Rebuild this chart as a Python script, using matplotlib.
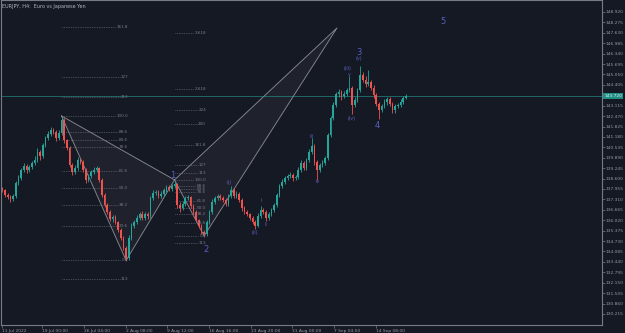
import matplotlib
matplotlib.use("Agg")
import matplotlib.pyplot as plt
import numpy as np

# EURJPY H4 candles (one candle here = two H4 bars)
first_open = 137.95
closes = [137.89, 137.58, 137.46, 137.34, 137.52, 138.33, 138.64, 139.13, 139.38, 139.13,
          139.32, 139.57, 139.75, 140.25, 140.00, 140.68, 141.11, 141.36, 141.61, 141.49,
          141.11, 141.43, 142.23, 140.99, 140.50, 139.44, 139.01, 139.26, 139.75, 139.63,
          139.13, 138.51, 138.76, 139.01, 139.13, 139.26, 138.51, 137.58, 136.97, 136.53,
          136.10, 136.22, 135.91, 135.42, 134.92, 134.30, 133.68, 134.92, 135.67, 135.91,
          136.16, 136.41, 136.16, 136.41, 136.29, 137.40, 137.71, 137.77, 137.52, 137.65,
          137.89, 138.08, 137.96, 138.14, 138.27, 136.97, 136.78, 137.03, 137.40, 137.46,
          136.91, 136.53, 136.04, 135.67, 135.29, 135.17, 135.91, 136.53, 137.15, 137.40,
          137.52, 137.40, 137.27, 137.03, 137.52, 137.89, 137.52, 137.65, 137.27, 136.78,
          136.53, 136.41, 136.16, 135.91, 135.67, 136.29, 136.66, 136.53, 136.16, 136.41,
          136.66, 136.97, 137.58, 138.14, 138.39, 138.64, 138.76, 138.82, 138.64, 138.70,
          139.13, 139.57, 139.26, 139.75, 140.25, 140.62, 139.63, 139.13, 139.44, 139.57,
          139.88, 141.30, 142.36, 143.16, 143.84, 143.97, 143.72, 143.84, 144.09, 144.21,
          143.16, 143.47, 144.09, 145.02, 144.71, 144.46, 144.58, 144.21, 143.78, 143.22,
          142.85, 143.10, 143.35, 143.53, 143.22, 142.85, 143.10, 143.16, 143.35, 143.59,
          143.72]
upper_wick = [0.10, 0.08, 0.12, 0.10, 0.15, 0.10, 0.18, 0.12, 0.20, 0.10,
              0.14, 0.10, 0.22, 0.25, 0.10, 0.12, 0.15, 0.20, 0.18, 0.10,
              0.12, 0.15, 0.19, 0.10, 0.08, 0.12, 0.10, 0.20, 0.18, 0.10,
              0.12, 0.10, 0.15, 0.12, 0.20, 0.10, 0.08, 0.10, 0.12, 0.10,
              0.15, 0.10, 0.12, 0.08, 0.10, 0.12, 0.10, 0.20, 0.15, 0.12,
              0.18, 0.10, 0.20, 0.12, 0.10, 0.15, 0.20, 0.12, 0.10, 0.15,
              0.10, 0.12, 0.15, 0.10, 0.18, 0.08, 0.15, 0.20, 0.12, 0.10,
              0.08, 0.10, 0.12, 0.08, 0.10, 0.12, 0.15, 0.10, 0.20, 0.12,
              0.15, 0.10, 0.12, 0.15, 0.10, 0.25, 0.12, 0.18, 0.10, 0.12,
              0.10, 0.15, 0.08, 0.12, 0.10, 0.15, 0.25, 0.10, 0.12, 0.15,
              0.10, 0.12, 0.10, 0.15, 0.20, 0.12, 0.15, 0.20, 0.12, 0.10,
              0.18, 0.20, 0.12, 0.15, 0.20, 0.50, 0.15, 0.10, 0.12, 0.15,
              0.10, 0.15, 0.12, 0.20, 0.15, 0.18, 0.12, 0.20, 0.15, 0.75,
              0.15, 0.20, 0.15, 0.55, 0.20, 0.25, 0.75, 0.15, 0.20, 0.12,
              0.10, 0.15, 0.18, 0.12, 0.10, 0.15, 0.12, 0.10, 0.15, 0.12,
              0.10]
lower_wick = [0.12, 0.15, 0.10, 0.18, 0.10, 0.12, 0.10, 0.15, 0.10, 0.20,
              0.10, 0.12, 0.10, 0.15, 0.25, 0.10, 0.12, 0.10, 0.15, 0.12,
              0.18, 0.10, 0.12, 0.20, 0.15, 0.10, 0.20, 0.12, 0.10, 0.15,
              0.10, 0.20, 0.12, 0.15, 0.10, 0.12, 0.15, 0.10, 0.12, 0.15,
              0.10, 0.18, 0.12, 0.15, 0.10, 0.12, 0.18, 0.10, 0.15, 0.12,
              0.10, 0.15, 0.12, 0.10, 0.20, 0.12, 0.10, 0.15, 0.12, 0.10,
              0.12, 0.10, 0.15, 0.12, 0.10, 0.20, 0.25, 0.15, 0.10, 0.12,
              0.15, 0.12, 0.10, 0.15, 0.12, 0.19, 0.10, 0.12, 0.15, 0.10,
              0.12, 0.15, 0.10, 0.12, 0.15, 0.10, 0.12, 0.10, 0.15, 0.20,
              0.12, 0.15, 0.10, 0.12, 0.19, 0.10, 0.12, 0.15, 0.20, 0.10,
              0.12, 0.10, 0.15, 0.12, 0.10, 0.12, 0.15, 0.10, 0.20, 0.12,
              0.10, 0.15, 0.12, 0.10, 0.15, 0.12, 0.20, 0.60, 0.15, 0.12,
              0.15, 0.12, 0.10, 0.15, 0.12, 0.20, 0.25, 0.15, 0.12, 0.10,
              0.56, 0.15, 0.12, 0.10, 0.15, 0.20, 0.12, 0.15, 0.20, 0.15,
              0.56, 0.15, 0.12, 0.20, 0.15, 0.18, 0.20, 0.12, 0.15, 0.10,
              0.08]

# harmonic pattern points X, A, B, C, D (candle index, price)
pattern_x = [22, 46, 64, 75, 124.4]
pattern_y = [142.48, 133.53, 138.52, 135.05, 147.93]

# fibo levels drawn by the pattern tool
fib_levels = [-0.13, 0.0, 0.236, 0.382, 0.5, 0.618, 0.786, 0.836, 0.886, 1.0,
              1.13, 1.27, 1.618, 2.0, 2.24, 2.618, 3.618]
fib_labels = ["113", "0.0", "23.6", "38.2", "50.0", "61.8", "78.6", "83.6", "88.6", "100.0",
              "113", "127", "161.8", "200", "224", "2.618", "3.618"]

# elliott wave labels
wave_text = ["1", "2", "3", "4", "5"]
wave_x = [63.4, 75.6, 132.6, 139.3, 163.8]
wave_y = [138.82, 134.22, 146.44, 141.86, 148.36]
sub_text = ["(i)", "(ii)", "i", "ii", "iii", "iv", "(iii)", "v", "(iv)", "(v)"]
sub_x = [84.3, 93.9, 96.2, 98.0, 115.1, 117.3, 128.5, 128.9, 130.0, 132.6]
sub_y = [138.33, 135.23, 137.27, 135.73, 141.18, 138.39, 145.39, 145.02, 142.35, 146.01]

# axis labels
date_pos = [0, 14.7, 30.4, 46.0, 61.2, 76.8, 92.4, 107.7, 123.3, 138.9]
date_labels = ["11 Jul 2022", "19 Jul 00:00", "26 Jul 04:00", "2 Aug 08:00", "9 Aug 12:00",
               "16 Aug 16:00", "23 Aug 20:00", "31 Aug 00:00", "7 Sep 04:00", "14 Sep 08:00"]
price_ticks = [148.920, 148.275, 147.630, 146.985, 146.340, 145.695, 145.050, 144.405,
               143.760, 143.115, 142.470, 141.825, 141.180, 140.535, 139.890, 139.245,
               138.600, 137.955, 137.310, 136.665, 136.020, 135.375, 134.730, 134.085,
               133.440, 132.795, 132.150, 131.505, 130.860, 130.215]
last_price = 143.72

bg = "#151924"
up_col = "#26a69a"
down_col = "#ef5350"
txt_col = "#9598a1"
wave_col = "#5b5fc0"
y_lo, y_hi = 129.53, 149.63

fig = plt.figure(figsize=(6.25, 3.33), dpi=100, facecolor=bg)
ax = fig.add_axes([0.0016, 0.024, 0.9616, 0.9745], facecolor=bg)

# candles
closes = np.array(closes)
opens = np.concatenate([[first_open], closes[:-1]])
highs = np.maximum(opens, closes) + np.array(upper_wick)
lows = np.minimum(opens, closes) - np.array(lower_wick)
idx = np.arange(len(closes))
colors = np.where(closes >= opens, up_col, down_col)
ax.vlines(idx, lows, highs, colors=colors, linewidth=0.6, zorder=3)
ax.bar(idx, np.abs(closes - opens) + 0.02, bottom=np.minimum(opens, closes) - 0.01,
       width=0.6, color=colors, linewidth=0, zorder=4)

# pattern triangles
px, py = pattern_x, pattern_y
for tri in ([0, 1, 2], [2, 3, 4]):
    ax.fill([px[k] for k in tri], [py[k] for k in tri], color="#ffffff", alpha=0.045, zorder=1)
    ax.plot([px[k] for k in tri + [tri[0]]], [py[k] for k in tri + [tri[0]]],
            color="#a0a3ab", linewidth=0.6, alpha=0.8, zorder=2)

# fib levels: XA set and BC set (only what fits on screen)
for i0, i1 in ((0, 1), (2, 3)):
    top, base = py[i0], py[i1]
    for f, lab in zip(fib_levels, fib_labels):
        lvl = base + f * (top - base)
        if lvl > y_hi - 0.25:
            continue
        x_end = px[i1] + 0.7 - len(lab) * 0.85 - 0.3
        ax.plot([px[i0], x_end], [lvl, lvl], color="#787b86", linewidth=0.5,
                linestyle=(0, (1, 1.5)), zorder=2)
        ax.text(px[i1] + 0.7, lvl, lab, fontsize=3, color="#787b86", ha="right",
                va="center", zorder=5)

# wave labels
for t, x, y in zip(wave_text, wave_x, wave_y):
    ax.text(x, y, t, fontsize=6, color=wave_col, ha="center", va="center", zorder=6)
for t, x, y in zip(sub_text, sub_x, sub_y):
    ax.text(x, y, t, fontsize=3.5, color=wave_col, ha="center", va="center", zorder=6)

# current price line + marker on the axis
ax.axhline(last_price, color="#26a69a", alpha=0.55, linewidth=0.7, zorder=2)
ax.annotate(f"{last_price:.3f}", xy=(1.0, last_price), xycoords=("axes fraction", "data"),
            xytext=(1.5, 0), textcoords="offset points", fontsize=3.2, color="#e0f2f1",
            va="center", ha="left",
            bbox=dict(boxstyle="square,pad=0.25", fc="#1f9085", ec="none"), zorder=10,
            annotation_clip=False)

ax.set_xlim(-0.5, 222.9)
ax.set_ylim(y_lo, y_hi)

ax.yaxis.tick_right()
ax.set_yticks(price_ticks)
ax.set_yticklabels([f"{p:.3f}" for p in price_ticks])
ax.set_xticks(date_pos)
ax.set_xticklabels(date_labels, ha="left")
ax.tick_params(axis="both", colors="#787b86", labelcolor=txt_col, labelsize=3.2,
               length=1.8, width=0.5, pad=0.8)
for s in ax.spines.values():
    s.set_color("#787b86")
    s.set_linewidth(0.8)

fig.text(0.004, 0.988, "EURJPY, H4:  Euro vs Japanese Yen", fontsize=3.5, color="#b2b5be",
         ha="left", va="top")

fig.savefig("out.png", dpi=100, facecolor=bg)
